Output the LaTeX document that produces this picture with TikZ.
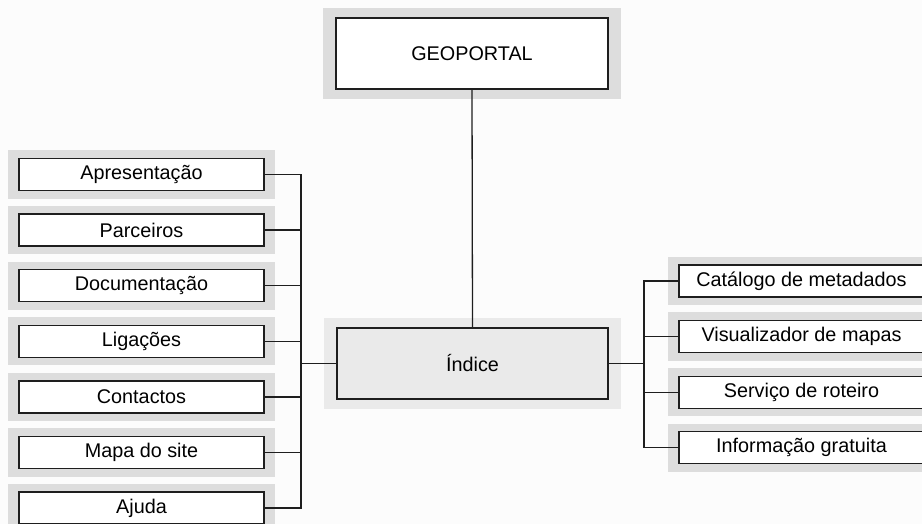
\documentclass[tikz,border=0pt]{standalone}
\usepackage{fontspec}
\setmainfont{Liberation Sans}
\usetikzlibrary{calc,backgrounds}
\definecolor{shadowgray}{RGB}{221,221,221}
\definecolor{lightgray2}{RGB}{234,234,234}
\definecolor{pagebg}{RGB}{252,252,252}
\definecolor{linec}{RGB}{30,30,30}
\tikzset{
  box/.style={draw=linec, line width=1.3pt, fill=white, minimum width=245pt, minimum height=32pt, inner sep=0pt, font=\fontsize{19.8}{23}\selectfont},
  bigbox/.style={box, minimum width=272pt, minimum height=71pt},
  conn/.style={draw=linec, line width=1.3pt}
}
\newcommand{\shadowof}[4]{%
  \begin{pgfonlayer}{background}
  \fill[fill=#4] ($(#1.north west)+(-#2,-#3)$) rectangle ($(#1.south east)+(#2,#3)$);
  \end{pgfonlayer}}
\begin{document}
\begin{tikzpicture}[x=1pt,y=-1pt]
\begin{pgfonlayer}{background}
\fill[pagebg] (0,0) rectangle (922,524);
\end{pgfonlayer}
\useasboundingbox (0,0) rectangle (922,524);
\begin{scope}
\clip (0,0) rectangle (922,524);
% top
\node[bigbox] (geo) at (472,53.5) {GEOPORTAL};
\node[bigbox, minimum width=271pt, fill=lightgray2] (ind) at (472.5,363.5) {Índice};
% left
\node[box] (l1) at (141.5,174.5) {Apresentação};
\node[box] (l2) at (141.5,230.1) {Parceiros};
\node[box] (l3) at (141.5,285.7) {Documentação};
\node[box] (l4) at (141.5,341.3) {Ligações};
\node[box] (l5) at (141.5,396.9) {Contactos};
\node[box] (l6) at (141.5,452.5) {Mapa do site};
\node[box] (l7) at (141.5,508.1) {Ajuda};
% right
\node[box] (r1) at (801.5,281) {Catálogo de metadados};
\node[box] (r2) at (801.5,336.6) {Visualizador de mapas};
\node[box] (r3) at (801.5,392.2) {Serviço de roteiro};
\node[box] (r4) at (801.5,447.8) {Informação gratuita};
% shadows
\shadowof{geo}{12}{9}{shadowgray}
\shadowof{ind}{12}{9}{lightgray2}
\foreach \n in {l1,l2,l3,l4,l5,l6,l7,r1,r2,r3,r4}{\shadowof{\n}{10}{7.5}{shadowgray}}
% bus coordinates
\coordinate (lb) at (301,363.5);
\coordinate (rb) at (644,363.5);
% connectors
\draw[conn] (geo.south) -- (ind.north);
\draw[conn] (ind.west) -- (lb);
\draw[conn] (ind.east) -- (rb);
\draw[conn] (l1.east) -| (lb);
\draw[conn] (l7.east) -| (lb);
\foreach \n in {l2,l3,l4,l5,l6}{\draw[conn] (\n.east) -- (\n.east -| lb);}
\draw[conn] (r1.west) -| (rb);
\draw[conn] (r4.west) -| (rb);
\foreach \n in {r2,r3}{\draw[conn] (\n.west) -- (\n.west -| rb);}
\end{scope}
\end{tikzpicture}
\end{document}
